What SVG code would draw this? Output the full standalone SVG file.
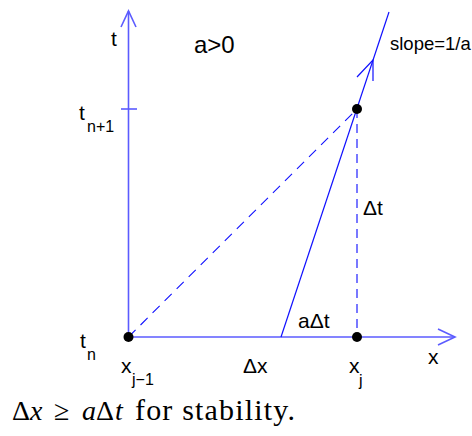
<svg xmlns="http://www.w3.org/2000/svg" width="472" height="436" viewBox="0 0 472 436">
<style>
.axis{stroke:#5b5bff;stroke-width:1.6;fill:none}
.line{stroke:#1010ff;stroke-width:1.2;fill:none}
.dash1{stroke:#1010ff;stroke-width:1.1;fill:none;stroke-dasharray:10 7}
.dash2{stroke:#6a6aff;stroke-width:1.8;fill:none;stroke-dasharray:9 6}
.lbl{font-family:"Liberation Sans",Arial,sans-serif;fill:#000}
.math{font-family:"Liberation Serif","Times New Roman",serif;fill:#000}
.dot{fill:#000}
</style>
<rect width="472" height="436" fill="#fff"/>
<g id="connectors">
<line class="axis" x1="128.5" y1="337" x2="128.5" y2="11"/>
<polyline class="axis" points="121,27 128.5,11 136,27"/>
<line class="axis" x1="121" y1="109" x2="137" y2="109"/>
<line class="axis" x1="128.5" y1="337" x2="455" y2="337"/>
<polyline class="axis" points="438,329 455,337 438,345"/>
<line class="line" x1="281" y1="337" x2="389" y2="12"/>
<polyline class="line" points="357,77 373,60 373,81"/>
<line class="dash1" x1="128.5" y1="337" x2="357" y2="109"/>
<line class="dash2" x1="357" y1="109" x2="357" y2="337"/>
</g>
<g id="node-p1"><circle class="dot" cx="128.5" cy="337" r="5"/></g>
<g id="node-p2"><circle class="dot" cx="357" cy="337" r="5"/></g>
<g id="node-p3"><circle class="dot" cx="357" cy="109" r="5"/></g>
<g id="labels">
<text class="lbl" x="111" y="46" font-size="21">t</text>
<text class="lbl" x="194" y="53" font-size="24">a&gt;0</text>
<text class="lbl" x="390" y="50" font-size="18.5">slope=1/a</text>
<text class="lbl" x="79" y="120" font-size="21">t</text>
<text class="lbl" x="87" y="132" font-size="16">n+1</text>
<text class="lbl" x="80" y="348" font-size="21">t</text>
<text class="lbl" x="87" y="360" font-size="16">n</text>
<text class="lbl" x="121" y="373" font-size="21">x</text>
<text class="lbl" x="132" y="385" font-size="16">j−1</text>
<text class="lbl" x="243" y="373" font-size="21">Δx</text>
<text class="lbl" x="349" y="373" font-size="21">x</text>
<text class="lbl" x="359" y="386" font-size="16">j</text>
<text class="lbl" x="428" y="364" font-size="21">x</text>
<text class="lbl" x="298" y="328" font-size="21">aΔt</text>
<text class="lbl" x="363" y="215" font-size="21">Δt</text>
</g>
<g id="caption" class="math" font-size="28">
<text x="12" y="420">Δ</text>
<text x="30" y="420" font-style="italic">x</text>
<text x="54" y="420">≥</text>
<text x="82" y="420" font-style="italic">a</text>
<text x="96" y="420">Δ</text>
<text x="115" y="420" font-style="italic">t</text>
<text x="135" y="420" font-size="30" textLength="160" lengthAdjust="spacing">for stability.</text>
</g>
</svg>
